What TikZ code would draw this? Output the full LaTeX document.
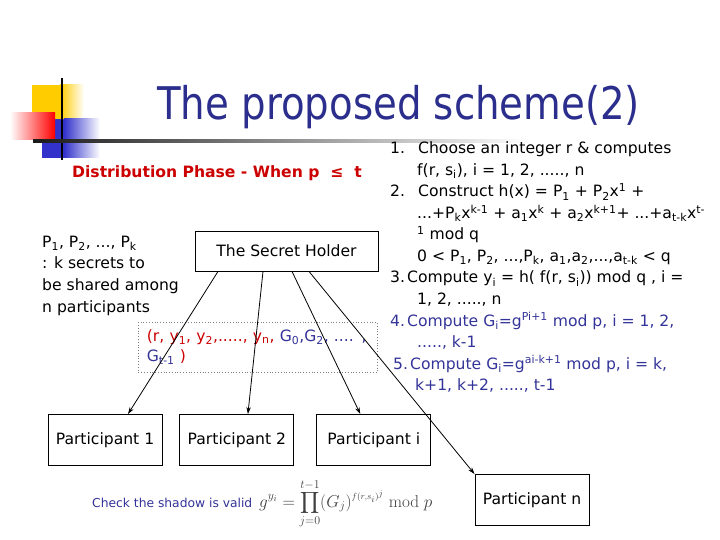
\documentclass[tikz,border=0pt]{standalone}
\usepackage[no-math]{fontspec}
\setmainfont{DejaVu Sans}
\newfontfamily\titulo[FakeStretch=0.86]{DejaVu Sans}
\usetikzlibrary{positioning, arrows.meta}
\definecolor{marinho}{HTML}{2B2E8C}
\definecolor{azul}{HTML}{333399}
\definecolor{vermelho}{HTML}{CC0000}
\definecolor{amarelo}{HTML}{FFCC00}
\definecolor{anil}{HTML}{3333CC}
\newcommand{\sbs}[1]{\textsubscript{#1}}
\newcommand{\sps}[1]{\textsuperscript{#1}}
\newcommand{\grandeprod}{\mathop{\vcenter{\hbox{\scalebox{1.5}{$\displaystyle\prod$}}}}\limits}

\begin{document}
\begin{tikzpicture}[
    x=1bp, y=-1bp,
    texto/.style={font=\fontsize{15.6bp}{21.5bp}\selectfont, inner sep=0pt, align=left},
    caixa/.style={
        rectangle, draw=black, line width=0.9bp,
        font=\fontsize{15.6bp}{18bp}\selectfont,
        minimum width=114bp, minimum height=51bp, inner sep=0pt
    },
    seta/.style={-{Stealth[length=7bp,width=4.5bp]}, line width=0.8bp},
    moldura/.style={draw=gray, dotted, line width=0.8bp}
]
\useasboundingbox (0,0) rectangle (720,540);

% quadrados do canto
\fill[amarelo] (32,85) rectangle (60,119);
\shade[left color=amarelo, right color=white] (60,85) rectangle (84,119);
\fill[anil] (42,119) rectangle (64,158);
\shade[left color=anil, right color=white] (64,119) rectangle (100,158);
\shade[left color=white, right color=red] (10,113) rectangle (55,140);
\draw[line width=2bp] (62,78) -- (62,160);
\shade[left color=black!90, right color=white] (33,139.5) rectangle (530,142.5);

\node[anchor=base west, inner sep=0pt, text=marinho, font=\titulo\fontsize{45bp}{50bp}\selectfont] (titulo) at (157,120) {The proposed scheme(2)};
\node[anchor=base west, inner sep=0pt, text=vermelho, font=\bfseries\fontsize{15.6bp}{18bp}\selectfont] (fase) at (72,178) {Distribution Phase - When p\ \ ≤\ \ t};

% base = ultima linha
\node[texto, anchor=base west] (segredos) at (42,312) {P\sbs{1}, P\sbs{2}, ..., P\sbs{k}\\: k secrets to\\be shared among\\n participants};

\node[caixa, minimum width=183bp, minimum height=40bp] (dono) at (286.5,251) {The Secret Holder};

\node[moldura, anchor=north west, text width=222bp, minimum height=50bp, inner xsep=8.5bp, inner ysep=0pt,
      align=left, font=\fontsize{15.6bp}{20bp}\selectfont] (tupla) at (138,322)
    {{\color{vermelho}(r, y\sbs{1}, y\sbs{2},....., y\sbs{n}, }{\color{azul}G\sbs{0},G\sbs{2}, .... ,}\\{\color{azul}G\sbs{t-1}}\textcolor{vermelho}{\ )}};

% participantes
\node[caixa] (p1) at (105,440) {Participant 1};
\node[caixa, right=17bp of p1] (p2) {Participant 2};
\node[caixa, right=22bp of p2] (pii) {Participant i};
\node[caixa] (pn) at (532,500) {Participant n};

\draw[seta] ([xshift=-68.5bp]dono.south) -- ([xshift=23bp]p1.north);
\draw[seta] ([xshift=-23.5bp]dono.south) -- ([xshift=11bp]p2.north);
\draw[seta] ([xshift=5.5bp]dono.south) -- ([xshift=-13.5bp]pii.north);
\draw[seta] ([xshift=22.5bp]dono.south) -- (pn.north west);

\node[texto, anchor=base west] (passos) at (390,390.5) {%
\makebox[28bp][l]{1.}Choose an integer r \& computes\\
\hspace*{27bp}f(r, s\sbs{i}), i = 1, 2, ....., n\\
\makebox[28bp][l]{2.}Construct h(x) = P\sbs{1} + P\sbs{2}x\sps{1} +\\
\hspace*{27bp}...+P\sbs{k}x\sps{k-1} + a\sbs{1}x\sps{k} + a\sbs{2}x\sps{k+1}+ ...+a\sbs{t-k}x\sps{t-}\\
\hspace*{27bp}\sps{1} mod q\\
\hspace*{27bp}0 < P\sbs{1}, P\sbs{2}, ...,P\sbs{k}, a\sbs{1},a\sbs{2},...,a\sbs{t-k} < q\\
\makebox[17bp][l]{3.}Compute y\sbs{i} = h( f(r, s\sbs{i})) mod q , i =\\
\hspace*{27bp}1, 2, ....., n\\
\textcolor{azul}{\makebox[17bp][l]{4.}Compute G\sbs{i}=g\sps{Pi+1} mod p, i = 1, 2,}\\
\textcolor{azul}{\hspace*{27bp}....., k-1}\\
\textcolor{azul}{\hspace*{3bp}\makebox[17bp][l]{5.}Compute G\sbs{i}=g\sps{ai-k+1} mod p, i = k,}\\
\textcolor{azul}{\hspace*{25bp}k+1, k+2, ....., t-1}};

\node[anchor=base west, inner sep=0pt, text=azul, font=\fontsize{12.3bp}{15bp}\selectfont] (checa) at (92,507) {Check the shadow is valid};
\node[anchor=base west, inner sep=0pt, text=black!75, font=\fontsize{17bp}{19bp}\selectfont] (formula) at (259,507)
    {$\displaystyle g^{y_i}=\grandeprod_{j=0}^{t-1}(G_j)^{\scriptscriptstyle f(r,s_i)^j}\bmod p$};
\end{tikzpicture}
\end{document}
